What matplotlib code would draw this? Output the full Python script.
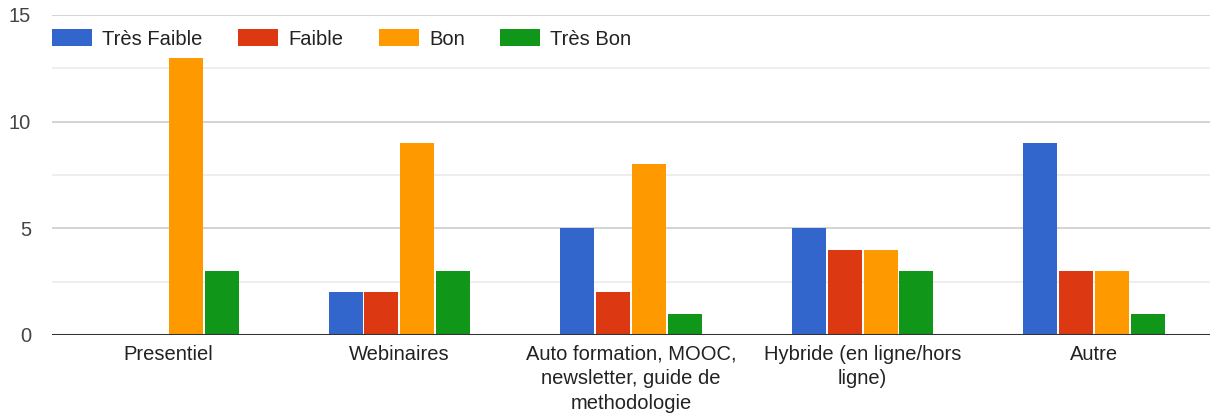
import matplotlib.pyplot as plt
import numpy as np
from matplotlib.ticker import MultipleLocator

plt.rcParams['font.family'] = ['Liberation Sans', 'DejaVu Sans']

categories = ["Presentiel", "Webinaires",
              "Auto formation, MOOC,\nnewsletter, guide de\nmethodologie",
              "Hybride (en ligne/hors\nligne)", "Autre"]
series_names = ["Très Faible", "Faible", "Bon", "Très Bon"]
tres_faible = [0, 2, 5, 5, 9]
faible = [0, 2, 2, 4, 3]
bon = [13, 9, 8, 4, 3]
tres_bon = [3, 3, 1, 3, 1]
colors = ["#3366cc", "#dc3912", "#ff9900", "#109618"]

fig = plt.figure(figsize=(12.1, 4.16), dpi=100)
ax = fig.add_axes([52/1210, 1-335/416, 1-52/1210, 320/416])

x = np.arange(len(categories))
step = 0.155
width = 0.147
for i, vals in enumerate([tres_faible, faible, bon, tres_bon]):
    ax.bar(x + (i - 1.5)*step, vals, width, color=colors[i], label=series_names[i], zorder=3)

ax.set_xlim(-0.5, 4.5)
ax.set_ylim(0, 15)
ax.yaxis.set_major_locator(MultipleLocator(5))
ax.yaxis.set_minor_locator(MultipleLocator(2.5))
ax.grid(axis='y', which='major', color='#cccccc', lw=1.2, zorder=0)
ax.grid(axis='y', which='minor', color='#ebebeb', lw=1.2, zorder=0)
ax.axhline(0, color='#333333', lw=1.5, zorder=4)
for s in ax.spines.values():
    s.set_visible(False)
ax.tick_params(axis='both', which='both', length=0)
ax.tick_params(axis='y', labelsize=14.5, labelcolor='#444444', pad=15)
ax.set_xticks(x)
ax.set_xticklabels(categories, fontsize=14.5, color='#222222', linespacing=1.38)
ax.tick_params(axis='x', pad=7)

ax.legend(loc='upper left', bbox_to_anchor=(0, 0.955), ncol=4, frameon=False,
          fontsize=14.5, handlelength=2.0, handleheight=0.9, handletextpad=0.5,
          columnspacing=1.75, borderpad=0, borderaxespad=0, labelcolor='#222222')

plt.savefig('out.png', dpi=100)
